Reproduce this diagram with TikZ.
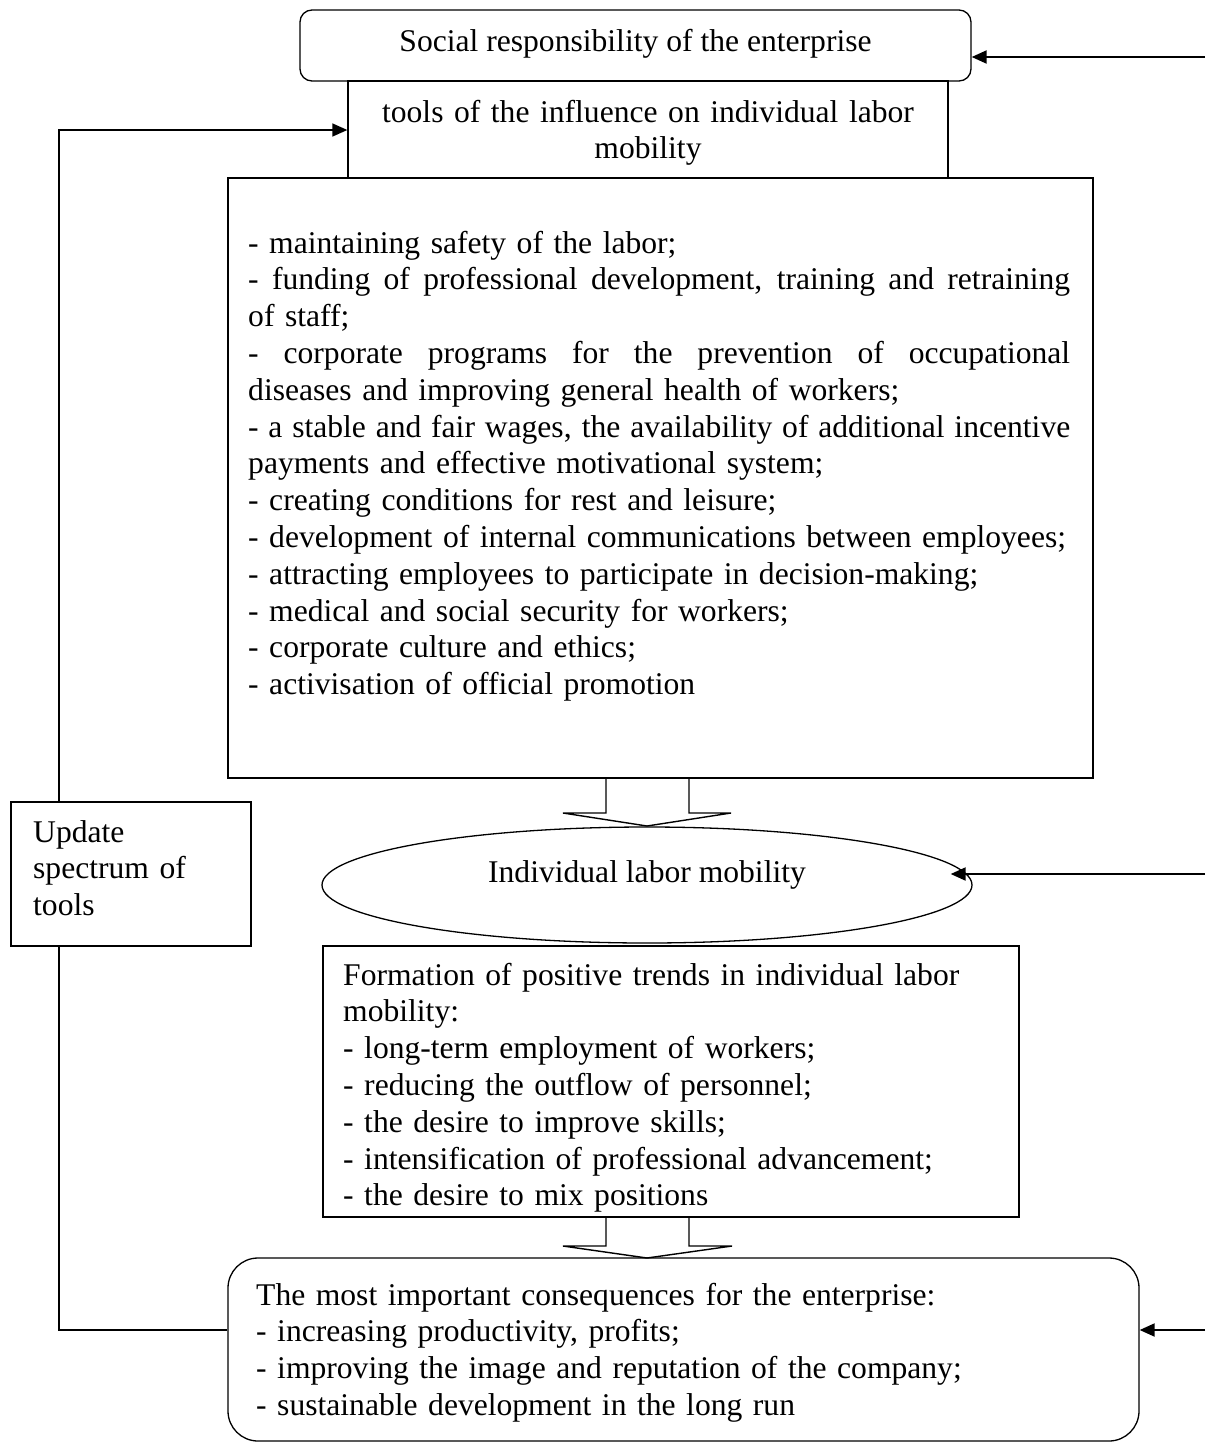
\documentclass[tikz,border=0pt]{standalone}
\usepackage{fontspec}
\setmainfont{Liberation Serif}
\usetikzlibrary{arrows.meta,shapes.geometric}
\newcommand{\justline}[1]{\leavevmode\hbox to 822pt{\spaceskip=0.25em plus 1fil\relax #1}}
\begin{document}
\begin{tikzpicture}[x=1pt,y=-1pt,
  box/.style={draw,line width=1.3pt,inner sep=0pt},
  txt/.style={font=\fontsize{31.6}{36.8}\selectfont,inner sep=0pt},
  arr/.style={line width=2pt,-{Triangle[length=15pt,width=13pt]}},
  loop/.style={line width=1.4pt},
  hollow/.style={line width=1.4pt,line join=miter}]
\useasboundingbox (0,0) rectangle (1205,1443);
% boxes
\node[box,rounded corners=12pt,minimum width=671pt,minimum height=71pt] (top) at (635.5,45.5) {};
\node[box,minimum width=600pt,minimum height=97pt] (tools) at (648,129.5) {};
\node[box,minimum width=865pt,minimum height=600pt] (big) at (660.5,478) {};
\node[box,ellipse,minimum width=650pt,minimum height=116pt] (ell) at (647,885) {};
\node[box,minimum width=240pt,minimum height=144pt] (upd) at (131,874) {};
\node[box,minimum width=696pt,minimum height=271pt] (form) at (671,1081.5) {};
\node[box,rounded corners=30pt,minimum width=911pt,minimum height=183pt] (bot) at (683.5,1349.5) {};
% texts
\node[txt,anchor=base] (toptxt) at (635.5,51) {Social responsibility of the enterprise};
\node[txt,anchor=base,text width=600pt,align=center] (toolstxt) at (648,122) {tools of the influence on individual labor\\mobility};
\node[txt,anchor=base west,text width=822pt,align=left] (bigtxt) at (248,253) {%
- maintaining safety of the labor;\\
\justline{- funding of professional development, training and retraining}\\
of staff;\\
\justline{- corporate programs for the prevention of occupational}\\
diseases and improving general health of workers;\\
\justline{- a stable and fair wages, the availability of additional incentive}\\
payments and effective motivational system;\\
- creating conditions for rest and leisure;\\
- development of internal communications between employees;\\
- attracting employees to participate in decision-making;\\
- medical and social security for workers;\\
- corporate culture and ethics;\\
- activisation of official promotion};
\node[txt,anchor=base] (elltxt) at (647,882) {Individual labor mobility};
\node[txt,anchor=base west,text width=220pt,align=left] (updtxt) at (33,842) {Update\\spectrum of\\tools};
\node[txt,anchor=base west,text width=680pt,align=left] (formtxt) at (343,985) {Formation of positive trends in individual labor\\mobility:\\- long-term employment of workers;\\- reducing the outflow of personnel;\\- the desire to improve skills;\\- intensification of professional advancement;\\- the desire to mix positions};
\node[txt,anchor=base west,text width=880pt,align=left] (bottxt) at (256,1305) {The most important consequences for the enterprise:\\- increasing productivity, profits;\\- improving the image and reputation of the company;\\- sustainable development in the long run};
% hollow block arrows
\draw[hollow] (606,778) -- (606,813) -- (563,813) -- (647,826) -- (731,813) -- (689,813) -- (689,778);
\draw[hollow] (606,1217) -- (606,1246) -- (563,1246) -- (647,1258) -- (732,1246) -- (689,1246) -- (689,1217);
% right arrows
\coordinate (r1) at (1205,57);
\coordinate (r2) at (1205,874);
\coordinate (r3) at (1205,1330);
\draw[arr] (r1) -- (r1 -| top.east);
\draw[arr] (r2) -- ([xshift=-22pt]r2 -| ell.east);
\draw[arr] (r3) -- (r3 -| bot.east);
% feedback loop
\coordinate (lb) at (59,1330);
\coordinate (lt) at (59,130);
\draw[loop] (lb -| bot.west) -- (lb) -- (lb |- upd.south);
\draw[loop,arr,line width=1.4pt] (lt |- upd.north) -- (lt) -- (lt -| tools.west);
\end{tikzpicture}
\end{document}
